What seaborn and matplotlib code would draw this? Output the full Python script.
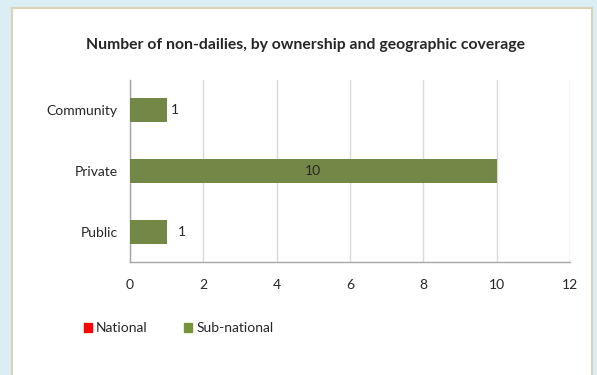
import matplotlib
matplotlib.use("Agg")
import matplotlib.pyplot as plt
import matplotlib.patches as mpatches
import seaborn as sns
import pandas as pd

# Data
categories = ["Community", "Private", "Public"]
national = [0, 0, 0]
sub_national = [1, 10, 1]
x_ticks = [0, 2, 4, 6, 8, 10, 12]

sns.set_style("white")
plt.rcParams["font.family"] = ["Lato", "DejaVu Sans"]

df = pd.DataFrame({
    "Ownership": categories * 2,
    "Count": national + sub_national,
    "Coverage": ["National"] * 3 + ["Sub-national"] * 3,
})

colors = {"National": "#FF0000", "Sub-national": "#77933C"}

fig = plt.figure(figsize=(5.97, 3.75), dpi=100)
fig.patch.set_facecolor("#DBEEF4")

# white chart panel with beige border
panel = mpatches.Rectangle((12 / 597, -0.05), 580 / 597, 1 - 8 / 375 + 0.05,
                           transform=fig.transFigure, facecolor="white",
                           edgecolor="#D8D2B6", linewidth=1.5, zorder=-5)
fig.patches.append(panel)

ax = fig.add_axes([130 / 597, 1 - 262 / 375, 440 / 597, 182 / 375])
ax.set_facecolor("white")
ax.set_zorder(2)

sns.barplot(data=df, y="Ownership", x="Count", hue="Coverage", order=categories,
            palette=colors, dodge=False, width=0.4, ax=ax, legend=False,
            edgecolor="none", zorder=3)

ax.set_xlim(0, 12)
ax.set_ylim(2.5, -0.5)
ax.set_xticks(x_ticks)
ax.set_xlabel("")
ax.set_ylabel("")
ax.grid(axis="x", color="#D9D9D9", linewidth=1, zorder=0)
ax.set_axisbelow(True)
for side in ["top", "right"]:
    ax.spines[side].set_visible(False)
for side in ["left", "bottom"]:
    ax.spines[side].set_color("#A6A6A6")
    ax.spines[side].set_linewidth(1)
ax.tick_params(axis="x", length=4, color="#A6A6A6", labelsize=10, pad=8)
ax.tick_params(axis="y", length=0, labelsize=10, pad=9)
ax.set_yticks([-0.5, 0.5, 1.5, 2.5], minor=True)
ax.tick_params(axis="y", which="minor", length=4, color="#A6A6A6", direction="out")

# value labels
for i, v in enumerate(sub_national):
    if v >= 5:
        ax.text(v / 2, i, str(v), ha="center", va="center", fontsize=10, zorder=4)
    else:
        offset = 0.12 if i == 0 else 0.3
        ax.text(v + offset, i, str(v), ha="left", va="center", fontsize=10, zorder=4)

fig.text(305 / 597, 1 - 45 / 375,
         "Number of non-dailies, by ownership and geographic coverage",
         ha="center", va="center", fontsize=11.3, fontweight="bold")

handles = [mpatches.Patch(color=colors[k], label=k) for k in ["National", "Sub-national"]]
fig.legend(handles=handles, loc="center left", bbox_to_anchor=(71 / 597, 1 - 328 / 375),
           ncol=2, frameon=False, fontsize=10, handlelength=0.6, handleheight=0.6,
           handletextpad=0.3, columnspacing=2.6)

fig.savefig("out.png", dpi=100)
